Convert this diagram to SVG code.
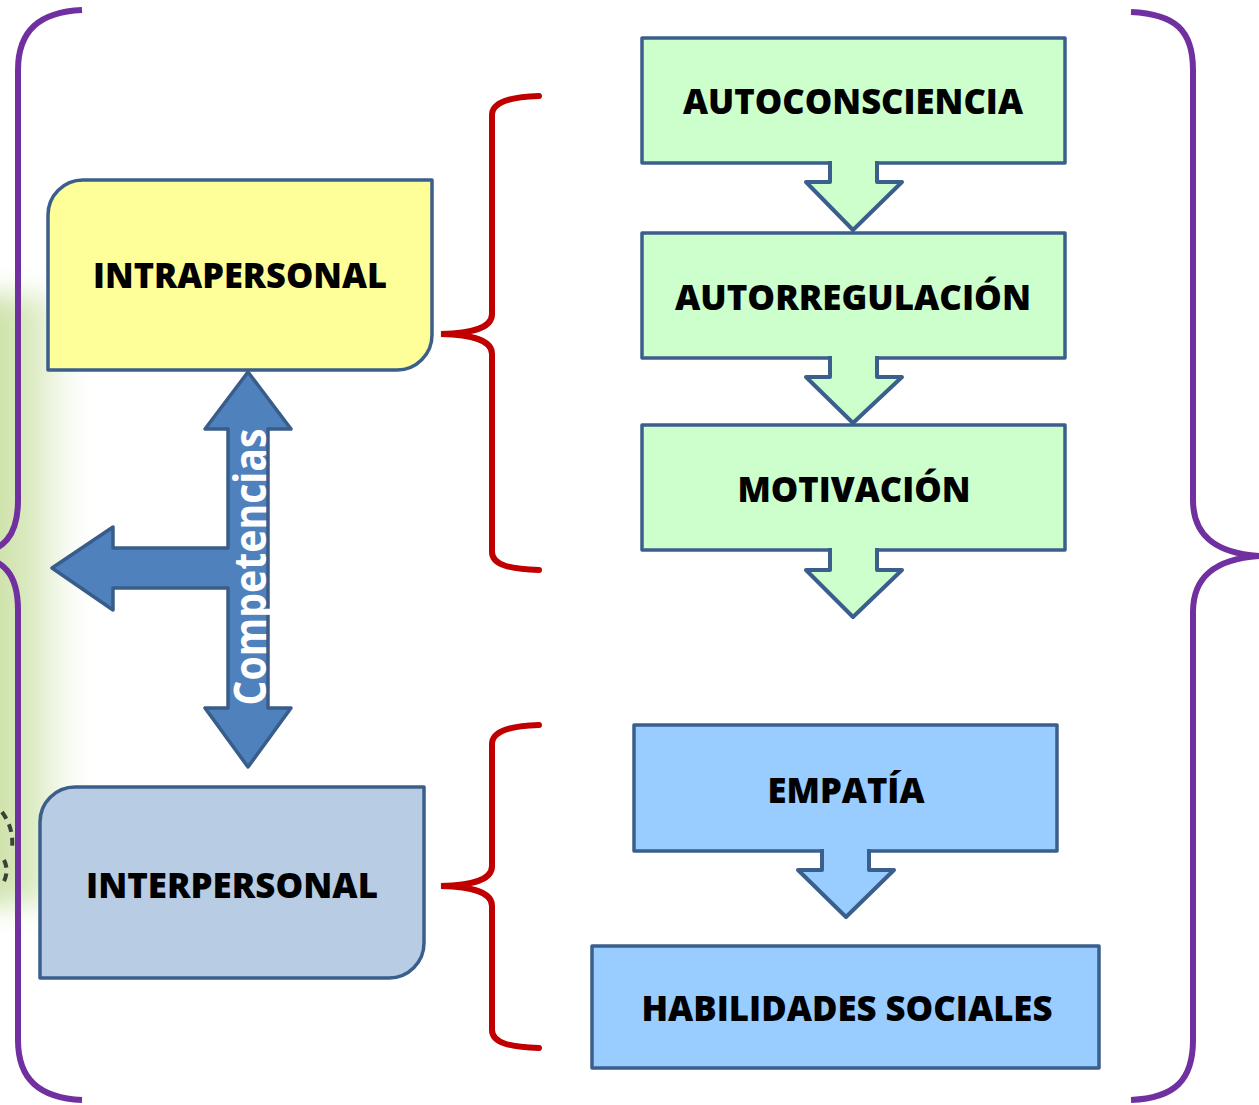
<svg xmlns="http://www.w3.org/2000/svg" width="1259" height="1105" viewBox="0 0 1259 1105">
  <defs>
    <linearGradient id="glow" x1="0" y1="0" x2="1" y2="0">
      <stop offset="0" stop-color="#c3dc98" stop-opacity="1"/>
      <stop offset="0.55" stop-color="#d3e6b4" stop-opacity="0.8"/>
      <stop offset="1" stop-color="#ffffff" stop-opacity="0"/>
    </linearGradient>
    <filter id="blur" x="-50%" y="-20%" width="200%" height="140%">
      <feGaussianBlur stdDeviation="14"/>
    </filter>
    <style>
      .box { stroke: #3b5f8c; stroke-width: 3.5; stroke-linejoin: round; }
      .green { fill: #ccffcc; }
      .blue { fill: #99ccff; }
      .lbl { font-family: "Open Sans", "Liberation Sans", sans-serif; font-weight: 800; font-size: 35px; fill: #000000; text-anchor: middle; }
      .brace-p { fill: none; stroke: #7030a0; stroke-width: 6; stroke-linecap: butt; }
      .brace-r { fill: none; stroke: #c00000; stroke-width: 6; stroke-linecap: round; }
      .darrow { stroke: #3b5f8c; stroke-width: 4; stroke-linejoin: round; }
      .cross { fill: #4f81bd; stroke: #385d8a; stroke-width: 3.5; stroke-linejoin: round; }
    </style>
  </defs>

  <rect width="1259" height="1105" fill="#ffffff"/>

  <!-- background glow on left -->
  <g id="background">
    <rect x="-30" y="295" width="120" height="610" fill="url(#glow)" filter="url(#blur)"/>
    <path d="M2,812 Q14,828 12,848 M4,860 Q10,872 2,885" fill="none" stroke="#222222" stroke-width="4" stroke-dasharray="8 6" opacity="0.85"/>
  </g>

  <!-- braces -->
  <g id="braces">
    <path class="brace-p" d="M82,10 C40,12 18,30 18,70 L18,500 C18,535 5,552 -30,555 C5,558 18,575 18,610 L18,1040 C18,1080 40,1098 82,1100"/>
    <path class="brace-p" d="M1131,12 C1175,14 1193,30 1193,70 L1193,500 C1193,535 1215,553 1259,556 C1215,559 1193,577 1193,612 L1193,1040 C1193,1080 1175,1098 1131,1100"/>
    <path class="brace-r" d="M539,96 C510,97 492,102 492,115 L492,314 C492,327 476,333 441,334 C476,335 492,341 492,354 L492,552 C492,565 510,569 539,570"/>
    <path class="brace-r" d="M539,725 C510,726 492,731 492,744 L492,866 C492,879 476,885 441,886 C476,887 492,893 492,906 L492,1030 C492,1043 510,1047 539,1048"/>
  </g>

  <!-- nodes -->
  <g id="intrapersonal">
    <path class="box" fill="#ffff99" d="M48,370 L48,215 A35,35 0 0 1 83,180 L432,180 L432,335 A35,35 0 0 1 397,370 Z"/>
    <text class="lbl" x="240" y="288" textLength="294" lengthAdjust="spacingAndGlyphs">INTRAPERSONAL</text>
  </g>
  <g id="interpersonal">
    <path class="box" fill="#b8cce4" d="M40,978 L40,822 A35,35 0 0 1 75,787 L424,787 L424,943 A35,35 0 0 1 389,978 Z"/>
    <text class="lbl" x="232" y="898" textLength="292" lengthAdjust="spacingAndGlyphs">INTERPERSONAL</text>
  </g>

  <g id="autoconsciencia">
    <rect class="box green" x="642" y="38" width="423" height="125"/>
    <text class="lbl" x="853" y="114" textLength="340" lengthAdjust="spacingAndGlyphs">AUTOCONSCIENCIA</text>
  </g>
  <g id="autorregulacion">
    <rect class="box green" x="642" y="233" width="423" height="125"/>
    <text class="lbl" x="853" y="310" textLength="356" lengthAdjust="spacingAndGlyphs">AUTORREGULACIÓN</text>
  </g>
  <g id="motivacion">
    <rect class="box green" x="642" y="425" width="423" height="125"/>
    <text class="lbl" x="854" y="502" textLength="233" lengthAdjust="spacingAndGlyphs">MOTIVACIÓN</text>
  </g>
  <g id="empatia">
    <rect class="box blue" x="634" y="725" width="423" height="126"/>
    <text class="lbl" x="846" y="803" textLength="157" lengthAdjust="spacingAndGlyphs">EMPATÍA</text>
  </g>
  <g id="habilidades">
    <rect class="box blue" x="592" y="946" width="507" height="122"/>
    <text class="lbl" x="847" y="1021" textLength="411" lengthAdjust="spacingAndGlyphs">HABILIDADES SOCIALES</text>
  </g>

  <!-- connectors -->
  <g id="connectors">
    <path class="darrow green" d="M830,161 L830,182 L806,182 L853,230 L902,182 L877,182 L877,161"/>
    <path class="darrow green" d="M830,356 L830,377 L806,377 L853,423 L902,377 L877,377 L877,356"/>
    <path class="darrow green" d="M830,548 L830,570 L806,570 L853,617 L902,570 L877,570 L877,548"/>
    <path class="darrow blue" d="M822,849 L822,870 L798,870 L846,917 L894,870 L869,870 L869,849"/>

    <g id="competencias">
      <path class="cross" d="M248,372 L291,429 L268,429 L268,708 L291,708 L248,767 L205,708 L228,708 L228,588 L113,588 L113,610 L52,568 L113,527 L113,548 L228,548 L228,429 L205,429 Z"/>
      <text x="0" y="0" transform="translate(266,567) rotate(-90)" font-family="'Open Sans', 'Liberation Sans', sans-serif" font-weight="bold" font-size="45" fill="#ffffff" text-anchor="middle" textLength="277" lengthAdjust="spacingAndGlyphs">Competencias</text>
    </g>
  </g>
</svg>
